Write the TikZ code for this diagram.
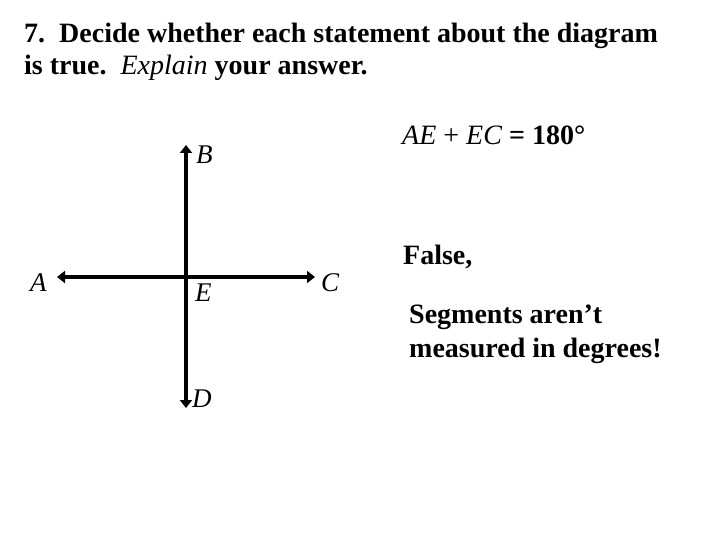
\documentclass[tikz,border=0pt]{standalone}
\usepackage{fontspec}
\setmainfont{Liberation Serif}
\usetikzlibrary{arrows.meta}
\begin{document}
\begin{tikzpicture}[x=1pt,y=-1pt,
  txt/.style={anchor=base west,inner sep=0pt,font=\fontsize{28}{32}\selectfont\bfseries},
  lbl/.style={anchor=base west,inner sep=0pt,font=\fontsize{27}{30}\selectfont\itshape},
  ray/.style={line width=4.5pt,{Triangle[length=8pt,width=12pt]}-{Triangle[length=8pt,width=12pt]}}]
\useasboundingbox[fill=white] (0,0) rectangle (720,540);
\node[txt] (t1) at (24,43) {7.\ \ Decide whether each statement about the diagram};
\node[txt] (t2) at (24,75) {is true.\ \ \textit{\mdseries Explain} your answer.};
\coordinate (Ar) at (57,277);
\coordinate (Cr) at (315,277);
\coordinate (Br) at (186,145);
\coordinate (Dr) at (186,408);
\draw[ray] (Ar) -- (Cr);
\draw[ray] (Br) -- (Dr);
\node[lbl] (A) at (30,291) {A};
\node[lbl] (B) at (196,164) {B};
\node[lbl] (C) at (321,291) {C};
\node[lbl] (D) at (192,407) {D};
\node[lbl] (E) at (195,301) {E};
\node[txt] (eq) at (402,145) {\mdseries\itshape AE\/\ \upshape+\ \itshape EC\/ \upshape\bfseries= 180°};
\node[txt] (f) at (403,264) {False,};
\node[txt] (s1) at (409,323) {Segments aren’t};
\node[txt] (s2) at (409,357) {measured in degrees!};
\end{tikzpicture}
\end{document}
